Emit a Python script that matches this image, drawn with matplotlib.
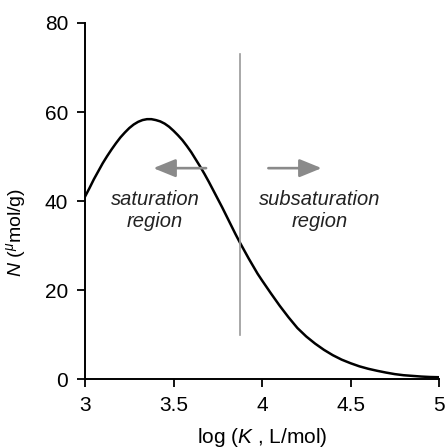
"""Binding-site distribution N vs log K, with saturation / subsaturation regions."""

import matplotlib
matplotlib.use("Agg")
import matplotlib.pyplot as plt

plt.rcParams["font.family"] = ["Liberation Sans", "DejaVu Sans"]
plt.rcParams["mathtext.fontset"] = "custom"
plt.rcParams["mathtext.rm"] = "Liberation Sans"
plt.rcParams["mathtext.it"] = "Liberation Sans:italic"

# (finer steps where the curve bends most)
log_k = [3.000, 3.025, 3.050, 3.075, 3.100, 3.125, 3.150, 3.175, 3.200, 3.225,
         3.250, 3.275, 3.300, 3.325, 3.350, 3.375, 3.400, 3.425, 3.450, 3.475,
         3.500, 3.525, 3.550, 3.575, 3.600, 3.625, 3.650, 3.675, 3.700, 3.725,
         3.750, 3.775, 3.800, 3.825, 3.850, 3.875, 3.900, 3.925, 3.950, 3.975,
         4.00, 4.05, 4.10, 4.15, 4.20, 4.25, 4.30, 4.35, 4.40, 4.45,
         4.50, 4.55, 4.60, 4.65, 4.70, 4.75, 4.80, 4.85, 4.90, 4.95, 5.00]
n_sites = [41.0, 42.9, 44.9, 46.7, 48.5, 50.1, 51.6, 53.0, 54.3, 55.4,
           56.4, 57.2, 57.8, 58.2, 58.4, 58.4, 58.2, 57.9, 57.4, 56.7,
           55.8, 54.8, 53.7, 52.4, 51.0, 49.4, 47.8, 46.1, 44.3, 42.4,
           40.5, 38.6, 36.6, 34.6, 32.6, 30.7, 28.9, 27.1, 25.4, 23.7,
           22.2, 19.3, 16.5, 13.9, 11.5, 9.6, 8.0, 6.6, 5.4, 4.4,
           3.6, 2.9, 2.35, 1.9, 1.5, 1.15, 0.9, 0.75, 0.6, 0.5, 0.45]
x_ticks = [3, 3.5, 4, 4.5, 5]
x_tick_labels = ["3", "3.5", "4", "4.5", "5"]
y_ticks = [0, 20, 40, 60, 80]
split_k = 3.876
split_span = (10, 73)

fig = plt.figure(figsize=(4.46, 4.48), dpi=100)
ax = fig.add_axes([0.1906, 0.1535, 0.7937, 0.7952])

ax.plot(log_k, n_sites, color="black", lw=1.8, solid_joinstyle="round")
ax.plot([split_k, split_k], split_span, color="#9a9a9a", lw=1.2)

arrow_kw = dict(arrowstyle="-|>,head_length=1.35,head_width=0.55",
                color="#8a8a8a", lw=1.9, mutation_scale=10,
                shrinkA=0, shrinkB=0)
ax.annotate("", xy=(3.386, 47.4), xytext=(3.684, 47.4), arrowprops=arrow_kw)
ax.annotate("", xy=(4.337, 47.4), xytext=(4.036, 47.4), arrowprops=arrow_kw)

ax.text(3.395, 37.9, "saturation\nregion", style="italic", fontsize=14.5,
        ha="center", va="center", color="#222222")
ax.text(4.328, 37.9, "subsaturation\nregion", style="italic", fontsize=14.5,
        ha="center", va="center", color="#222222")

ax.set_xlim(3, 5)
ax.set_ylim(0, 80)
ax.set_xticks(x_ticks)
ax.set_xticklabels(x_tick_labels)
ax.set_yticks(y_ticks)
ax.tick_params(labelsize=15, length=6, width=1.3, pad=6)
for side in ("top", "right"):
    ax.spines[side].set_visible(False)
for side in ("left", "bottom"):
    ax.spines[side].set_linewidth(1.4)

fig.text(262 / 446, 1 - 437 / 448, r"log ($\it{K}$ , L/mol)", fontsize=15,
         ha="center", va="center")
fig.text(16 / 446, 1 - 232 / 448, r"$\it{N}$ ($^{\mu}$mol/g)", fontsize=14,
         ha="center", va="center", rotation=90)

fig.savefig("out.png", dpi=100)
